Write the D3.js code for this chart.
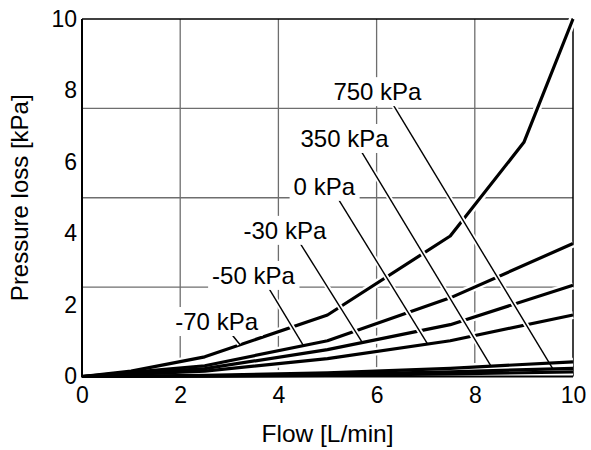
<!DOCTYPE html>
<html>
<head>
<meta charset="utf-8">
<script src="https://cdn.jsdelivr.net/npm/d3@7/dist/d3.min.js"></script>
<style>
  body { margin: 0; background: #fff; }
  text { font-family: "Liberation Sans", Arial, sans-serif; fill: #000; }
</style>
</head>
<body>
<div id="chart"></div>
<script>
// flow values [L/min] where the curves bend
const flowTop = [0, 1, 2.5, 5, 7.5, 9, 10];
const flow = [0, 2.5, 5, 7.5, 10];

// pressure loss [kPa]
const lossM70 = [0, 0.15, 0.55, 1.72, 3.93, 6.55, 10];
const lossM50 = [0, 0.3, 1.0, 2.2, 3.72];
const lossM30 = [0, 0.22, 0.75, 1.45, 2.55];
const loss0 = [0, 0.15, 0.5, 1.0, 1.72];
const loss350 = [0, 0.03, 0.1, 0.23, 0.41];
const loss750 = [0, 0.015, 0.06, 0.13, 0.23];
const lossLow = [0, 0.01, 0.03, 0.07, 0.13];

// labels, where they sit (flow, loss) and where their leader hits the curve
const labelNames = ['750 kPa', '350 kPa', '0 kPa', '-30 kPa', '-50 kPa', '-70 kPa'];
const labelCurve = [5, 4, 3, 2, 1, 0];
const labelX = [5.12, 4.45, 4.31, 3.29, 2.65, 1.90];
const labelY = [7.73, 6.42, 5.08, 3.85, 2.59, 1.30];
const leadStartX = [6.32, 5.67, 5.23, 4.45, 3.80, 3.06];
const leadStartY = [7.64, 6.34, 4.94, 3.71, 2.48, 1.16];
const leadEndX = [9.59, 8.33, 7.04, 5.71, 4.51, 3.22];

const xTicks = [0, 2, 4, 6, 8, 10];
const yTicks = [0, 2, 4, 6, 8, 10];
const xGrid = [2, 4, 6, 8];
const yGrid = [2.5, 5, 7.5];

const series = [
  { x: flowTop, y: lossM70 },
  { x: flow, y: lossM50 },
  { x: flow, y: lossM30 },
  { x: flow, y: loss0 },
  { x: flow, y: loss350 },
  { x: flow, y: loss750 },
  { x: flow, y: lossLow }
].map(s => s.x.map((v, i) => [v, s.y[i]]));

const W = 591, H = 450;
const margin = { top: 19, right: 18, bottom: 73.5, left: 82 };

const svg = d3.select('#chart').append('svg')
  .attr('width', W)
  .attr('height', H)
  .style('background', '#fff');

const x = d3.scaleLinear().domain([0, 10]).range([margin.left, W - margin.right]);
const y = d3.scaleLinear().domain([0, 10]).range([H - margin.bottom, margin.top]);

// grid
svg.append('g').selectAll('line.vg')
  .data(xGrid).enter().append('line')
  .attr('x1', d => x(d)).attr('x2', d => x(d))
  .attr('y1', y(0)).attr('y2', y(10))
  .attr('stroke', '#6e6e6e').attr('stroke-width', 1.3);

svg.append('g').selectAll('line.hg')
  .data(yGrid).enter().append('line')
  .attr('x1', x(0)).attr('x2', x(10))
  .attr('y1', d => y(d)).attr('y2', d => y(d))
  .attr('stroke', '#6e6e6e').attr('stroke-width', 1.3);

// frame: top and right thin, left and bottom heavier
svg.append('line').attr('x1', x(0)).attr('x2', x(10)).attr('y1', y(10)).attr('y2', y(10))
  .attr('stroke', '#000').attr('stroke-width', 1.3);
svg.append('line').attr('x1', x(10)).attr('x2', x(10)).attr('y1', y(0)).attr('y2', y(10))
  .attr('stroke', '#000').attr('stroke-width', 1.5);

// curves with white halo
const line = d3.line().x(d => x(d[0])).y(d => y(d[1]));

svg.append('g').selectAll('path')
  .data(series).enter().append('path')
  .attr('d', line)
  .attr('fill', 'none')
  .attr('stroke', '#fff')
  .attr('stroke-width', 8);

svg.append('g').selectAll('path')
  .data(series).enter().append('path')
  .attr('d', line)
  .attr('fill', 'none')
  .attr('stroke', '#000')
  .attr('stroke-width', 3.2)
  .attr('stroke-linejoin', 'round');

svg.append('line').attr('x1', x(0)).attr('x2', x(0)).attr('y1', y(0) + 1).attr('y2', y(10))
  .attr('stroke', '#000').attr('stroke-width', 2);
svg.append('line').attr('x1', x(0)).attr('x2', x(10)).attr('y1', y(0)).attr('y2', y(0))
  .attr('stroke', '#000').attr('stroke-width', 2);

// y value on a curve at a given flow
function curveAt(pts, f) {
  for (let i = 1; i < pts.length; i++) {
    if (f <= pts[i][0]) {
      const t = (f - pts[i - 1][0]) / (pts[i][0] - pts[i - 1][0]);
      return pts[i - 1][1] + t * (pts[i][1] - pts[i - 1][1]);
    }
  }
  return pts[pts.length - 1][1];
}

const labels = labelNames.map((name, i) => {
  const ex = leadEndX[i];
  const ey = curveAt(series[labelCurve[i]], ex);
  return {
    name: name,
    tx: x(labelX[i]), ty: y(labelY[i]),
    x1: x(leadStartX[i]), y1: y(leadStartY[i]),
    x2: x(ex), y2: y(ey)
  };
});

// leaders
const leaders = svg.append('g');
leaders.selectAll('line.halo')
  .data(labels).enter().append('line')
  .attr('x1', d => d.x1).attr('y1', d => d.y1)
  .attr('x2', d => d.x1 + (d.x2 - d.x1) * 0.94)
  .attr('y2', d => d.y1 + (d.y2 - d.y1) * 0.94)
  .attr('stroke', '#fff').attr('stroke-width', 5);
leaders.selectAll('line.lead')
  .data(labels).enter().append('line')
  .attr('x1', d => d.x1).attr('y1', d => d.y1)
  .attr('x2', d => d.x2).attr('y2', d => d.y2)
  .attr('stroke', '#000').attr('stroke-width', 1.4);

// label text on white boxes
const lab = svg.append('g').selectAll('g')
  .data(labels).enter().append('g');
lab.append('rect').attr('fill', '#fff');
lab.append('text')
  .attr('x', d => d.tx)
  .attr('y', d => d.ty)
  .style('font-size', '24px')
  .text(d => d.name);
lab.each(function() {
  const g = d3.select(this);
  const b = g.select('text').node().getBBox();
  g.select('rect')
    .attr('x', b.x - 4).attr('y', b.y - 1)
    .attr('width', b.width + 8).attr('height', b.height + 2);
});

// axes
const xAxis = d3.axisBottom(x).tickValues(xTicks).tickSize(0).tickPadding(10);
const yAxis = d3.axisLeft(y).tickValues(yTicks).tickSize(0).tickPadding(5);

svg.append('g')
  .attr('transform', 'translate(0,' + y(0) + ')')
  .call(xAxis)
  .call(g => g.select('.domain').remove())
  .selectAll('text')
  .style('font-size', '23px')
  .style('font-family', '"Liberation Sans", Arial, sans-serif');

svg.append('g')
  .attr('transform', 'translate(' + x(0) + ',0)')
  .call(yAxis)
  .call(g => g.select('.domain').remove())
  .selectAll('text')
  .style('font-size', '23px')
  .style('font-family', '"Liberation Sans", Arial, sans-serif');

// titles
svg.append('text')
  .attr('x', (x(0) + x(10)) / 2)
  .attr('y', 442)
  .attr('text-anchor', 'middle')
  .style('font-size', '24.5px')
  .text('Flow [L/min]');

svg.append('text')
  .attr('transform', 'translate(28,' + (y(0) + y(10)) / 2 + ') rotate(-90)')
  .attr('text-anchor', 'middle')
  .style('font-size', '24px')
  .text('Pressure loss [kPa]');
</script>
</body>
</html>
